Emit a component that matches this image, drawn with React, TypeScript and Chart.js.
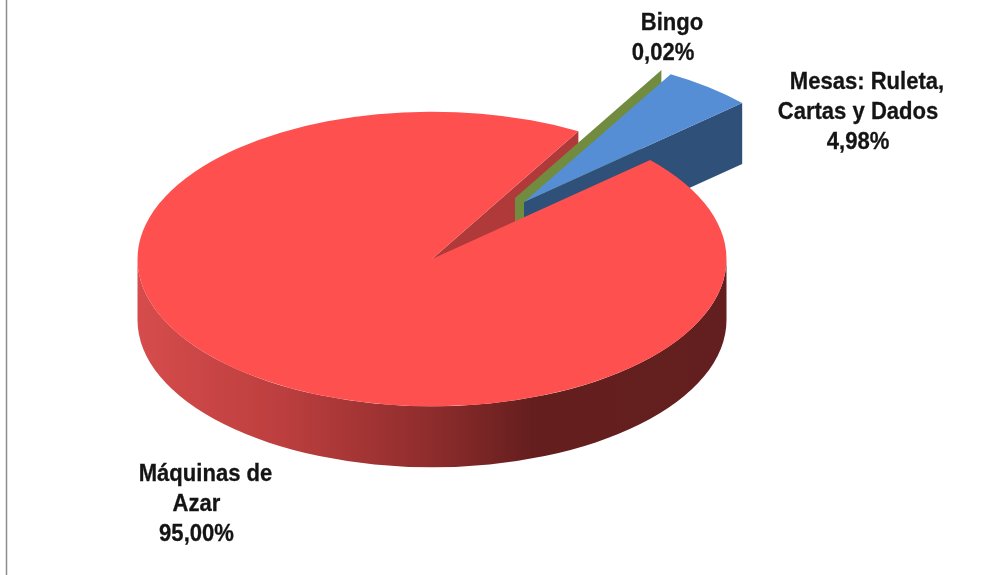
import React, { useEffect, useRef } from "react";
import { Chart, registerables } from "chart.js";

Chart.register(...registerables);

const categories = ["Bingo", "Mesas: Ruleta, Cartas y Dados", "Máquinas de Azar"];
const shares = [0.02, 4.98, 95.0];
const topColors = ["#718C3E", "#558ED5", "#FF5050"];
const wallColors = ["#718C3E", "#2F5078", "#B03A3A"];
const labelLines = [
  ["Bingo", "0,02%"],
  ["Mesas: Ruleta,", "Cartas y Dados", "4,98%"],
  ["Máquinas de", "Azar", "95,00%"],
];
const labelCenters = [
  [663, 23],
  [858, 82],
  [196.5, 474],
];
const FIRST_LINE_SHIFT = 9;
const LINE_STEP = 30.3;
const TEXT_STRETCH = 0.9;

const CX = 432;
const CY = 259;
const SQUASH = 0.5;
const DEPTH = 61;
const RADIUS = 294.5;
const EXPLODE = [
  [83, -61],
  [92, -57],
  [0, 0],
];

const pie3d = {
  id: "pie3d",
  afterDatasetsUpdate(chart: any) {
    const meta = chart.getDatasetMeta(0);
    meta.data.forEach((arc: any, i: number) => {
      arc.x = CX + EXPLODE[i][0];
      arc.y = CY + EXPLODE[i][1] / SQUASH;
    });
  },
  beforeDatasetsDraw(chart: any) {
    const ctx: CanvasRenderingContext2D = chart.ctx;
    const arcs = chart.getDatasetMeta(0).data;
    ctx.save();
    // Everything in the dataset layer is drawn on a flattened plane.
    ctx.translate(0, CY);
    ctx.scale(1, SQUASH);
    ctx.translate(0, -CY);
    const depth = DEPTH / SQUASH;

    const radialWall = (arc: any, angle: number, color: string) => {
      const px = arc.x + Math.cos(angle) * arc.outerRadius;
      const py = arc.y + Math.sin(angle) * arc.outerRadius;
      ctx.beginPath();
      ctx.moveTo(arc.x, arc.y);
      ctx.lineTo(px, py);
      ctx.lineTo(px, py + depth);
      ctx.lineTo(arc.x, arc.y + depth);
      ctx.closePath();
      ctx.fillStyle = color;
      ctx.fill();
    };

    const big = arcs[2];
    radialWall(big, big.endAngle, wallColors[2]);
    radialWall(arcs[0], arcs[0].startAngle, wallColors[0]);
    radialWall(arcs[1], arcs[1].endAngle, wallColors[1]);

    const g = ctx.createLinearGradient(big.x - big.outerRadius, 0, big.x + big.outerRadius, 0);
    g.addColorStop(0, "#D64C4C");
    g.addColorStop(0.25, "#BC3E3E");
    g.addColorStop(0.5, "#8E2C2C");
    g.addColorStop(0.67, "#651E1E");
    g.addColorStop(1, "#631F1F");
    ctx.beginPath();
    ctx.arc(big.x, big.y, big.outerRadius, 0, Math.PI);
    ctx.lineTo(big.x - big.outerRadius, big.y + depth);
    ctx.arc(big.x, big.y + depth, big.outerRadius, Math.PI, 0, true);
    ctx.closePath();
    ctx.fillStyle = g;
    ctx.fill();
  },
  afterDatasetsDraw(chart: any) {
    const ctx: CanvasRenderingContext2D = chart.ctx;
    ctx.restore();
    ctx.save();
    ctx.fillStyle = "#141414";
    ctx.strokeStyle = "#141414";
    ctx.lineWidth = 0.3;
    ctx.font = 'bold 24.5px "Liberation Sans"';
    ctx.textAlign = "center";
    ctx.textBaseline = "middle";
    labelLines.forEach((lines, i) => {
      lines.forEach((line, j) => {
        const x = labelCenters[i][0] + (j === 0 ? FIRST_LINE_SHIFT : 0);
        const y = labelCenters[i][1] + j * LINE_STEP;
        ctx.save();
        ctx.translate(x, y);
        ctx.scale(TEXT_STRETCH, 1);
        ctx.fillText(line, 0, 0);
        ctx.strokeText(line, 0, 0);
        ctx.restore();
      });
    });
    ctx.restore();
    ctx.strokeStyle = "#8C8C8C";
    ctx.lineWidth = 1.5;
    ctx.beginPath();
    ctx.moveTo(6.5, 0);
    ctx.lineTo(6.5, 575);
    ctx.stroke();
  },
};

export default function App() {
  const ref = useRef<HTMLCanvasElement>(null);
  useEffect(() => {
    const chart = new Chart(ref.current!, {
      type: "pie",
      data: {
        labels: categories,
        datasets: [
          {
            data: shares,
            backgroundColor: topColors,
            borderWidth: 0,
            clip: false,
          } as any,
        ],
      },
      options: {
        responsive: false,
        animation: false,
        rotation: 29.8,
        radius: RADIUS,
        layout: { padding: 0 },
        plugins: { legend: { display: false }, tooltip: { enabled: false } },
      } as any,
      plugins: [pie3d],
    });
    return () => chart.destroy();
  }, []);
  return (
    <div style={{ position: "fixed", left: 0, top: 0, width: 1004, height: 575, background: "#fff" }}>
      <canvas ref={ref} width={1004} height={575} style={{ display: "block" }} />
    </div>
  );
}
